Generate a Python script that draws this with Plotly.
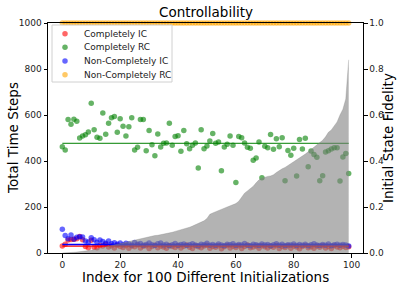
import plotly.graph_objects as go

idx = list(range(100))

green_rc = [462, 448, 580, 560, 581, 573, 500, 509, 514, 526,
            651, 536, 503, 499, 609, 516, 564, 588, 594, 525,
            584, 551, 509, 549, 588, 448, 460, 580, 580, 445,
            533, 471, 423, 517, 461, 477, 478, 564, 468, 506,
            510, 442, 533, 475, 453, 468, 478, 370, 536, 453,
            465, 487, 520, 477, 483, 358, 461, 473, 509, 468,
            306, 507, 501, 478, 460, 455, 403, 413, 483, 327,
            464, 458, 515, 451, 497, 462, 501, 314, 446, 425,
            455, 335, 494, 452, 499, 375, 443, 428, 416, 314,
            336, 439, 445, 452, 458, 458, 313, 417, 433, 346]

blue_ic = [103, 76, 62, 78, 60, 68, 71, 70, 52, 48,
           66, 58, 47, 56, 50, 42, 52, 40, 45, 38,
           44, 36, 42, 39, 35, 46, 38, 41, 34, 37,
           43, 36, 33, 40, 44, 35, 38, 32, 36, 41,
           34, 37, 39, 33, 36, 40, 35, 32, 38, 36,
           42, 34, 37, 33, 39, 35, 31, 38, 36, 40,
           33, 37, 35, 41, 34, 32, 38, 36, 33, 39,
           35, 37, 31, 36, 40, 34, 38, 32, 36, 35,
           39, 33, 37, 34, 38, 31, 36, 40, 35, 33,
           37, 34, 39, 32, 36, 38, 34, 37, 35, 30]

red_ic = [30, 38, 56, 59, 60, 62, 72, 58, 28, 23,
          55, 25, 23, 33, 30, 38, 26, 31, 22, 34,
          28, 24, 33, 21, 30, 27, 35, 22, 29, 32,
          20, 28, 34, 23, 30, 26, 21, 33, 28, 24,
          31, 22, 29, 35, 25, 20, 32, 27, 23, 30,
          34, 21, 28, 25, 31, 19, 27, 33, 22, 29,
          24, 31, 20, 28, 35, 23, 26, 30, 21, 32,
          27, 22, 29, 25, 33, 20, 28, 24, 31, 21,
          30, 26, 19, 28, 33, 23, 27, 21, 30, 25,
          32, 22, 28, 20, 31, 26, 23, 29, 24, 27]

orange_rc = [1000] * 100

fidelity = [0.0, 0.0, 0.001, 0.002, 0.003, 0.004, 0.005, 0.006, 0.007, 0.009,
            0.012, 0.015, 0.018, 0.021, 0.024, 0.027, 0.030, 0.033, 0.036, 0.039,
            0.042, 0.045, 0.048, 0.051, 0.054, 0.057, 0.060, 0.063, 0.066, 0.069,
            0.072, 0.074, 0.076, 0.077, 0.079, 0.081, 0.084, 0.087, 0.090, 0.094,
            0.097, 0.100, 0.104, 0.108, 0.112, 0.117, 0.122, 0.128, 0.134, 0.140,
            0.150, 0.168, 0.174, 0.180, 0.185, 0.190, 0.195, 0.200, 0.205, 0.210,
            0.215, 0.225, 0.245, 0.260, 0.270, 0.280, 0.290, 0.305, 0.318, 0.325,
            0.330, 0.333, 0.335, 0.340, 0.350, 0.360, 0.366, 0.372, 0.380, 0.390,
            0.398, 0.405, 0.412, 0.420, 0.430, 0.440, 0.450, 0.460, 0.470, 0.480,
            0.490, 0.505, 0.525, 0.535, 0.550, 0.570, 0.600, 0.625, 0.670, 0.840]

green_mean = 477
red_mean = 30
blue_mean = 37

legend_names = ["Completely IC", "Completely RC", "Non-Completely IC", "Non-Completely RC"]
legend_colors = ["rgba(255,0,0,0.6)", "rgba(0,128,0,0.6)", "rgba(0,0,255,0.6)", "rgba(255,165,0,0.6)"]

FONT = "DejaVu Sans"
MS = 5.5
W, H = 399, 287
L, R, T, B = 48, 36, 23, 34
PW, PH = W - L - R, H - T - B


def px_x(p):
    return (p - L) / PW


def px_y(p):
    return (H - B - p) / PH


fig = go.Figure()


def pts(y, color, name):
    return go.Scatter(x=idx, y=y, mode="markers", name=name,
                      marker=dict(color=color, size=MS, line=dict(width=0)),
                      cliponaxis=False, showlegend=False)


fig.add_trace(pts(red_ic, legend_colors[0], legend_names[0]))
fig.add_trace(pts(green_rc, legend_colors[1], legend_names[1]))
fig.add_trace(pts(blue_ic, legend_colors[2], legend_names[2]))
fig.add_trace(pts(orange_rc, legend_colors[3], legend_names[3]))

for val, col, lw in [(green_mean, "#008000", 1), (red_mean, "#ff0000", 1.3), (blue_mean, "#0000ff", 1.3)]:
    fig.add_trace(go.Scatter(x=[idx[0], idx[-1]], y=[val, val], mode="lines",
                             line=dict(color=col, width=lw),
                             showlegend=False, hoverinfo="skip"))

fig.add_trace(go.Scatter(x=idx, y=fidelity, yaxis="y2", mode="lines",
                         fill="tozeroy", fillcolor="rgba(128,128,128,0.6)",
                         line=dict(width=0.5, color="rgba(128,128,128,0.6)"),
                         showlegend=False, hoverinfo="skip"))

axis_common = dict(showgrid=False, zeroline=False, showline=True, linecolor="black",
                   linewidth=1, ticks="outside", ticklen=3.5, tickwidth=1,
                   tickcolor="black", automargin=False,
                   tickfont=dict(family=FONT, size=9, color="#222"))

shapes = []
annotations = []

# legend box
shapes.append(dict(type="rect", xref="paper", yref="paper", layer="above",
                   x0=px_x(52), x1=px_x(172), y0=px_y(82), y1=px_y(25),
                   line=dict(color="#d0d0d0", width=1),
                   fillcolor="rgba(255,255,255,0.8)"))
row_y = [33.7, 47.3, 61, 74.7]
r = MS / 2
for name, col, yy in zip(legend_names, legend_colors, row_y):
    shapes.append(dict(type="circle", xref="paper", yref="paper", layer="above",
                       x0=px_x(65 - r), x1=px_x(65 + r), y0=px_y(yy + r), y1=px_y(yy - r),
                       line=dict(width=0), fillcolor=col))
    annotations.append(dict(text=name, xref="paper", yref="paper", x=px_x(81.5), y=px_y(yy),
                            xanchor="left", yanchor="middle", showarrow=False,
                            font=dict(family=FONT, size=9, color="#222")))

# axis titles and title
annotations.append(dict(text="Total Time Steps", xref="paper", yref="paper",
                        x=px_x(13), y=px_y(138), textangle=-90, showarrow=False,
                        xanchor="center", yanchor="middle",
                        font=dict(family=FONT, size=13.5, color="black")))
annotations.append(dict(text="Initial State Fidelity", xref="paper", yref="paper",
                        x=px_x(388), y=px_y(138), textangle=-90, showarrow=False,
                        xanchor="center", yanchor="middle",
                        font=dict(family=FONT, size=13.5, color="black")))
annotations.append(dict(text="Index for 100 Different Initializations", xref="paper", yref="paper",
                        x=px_x(205.5), y=px_y(276.8), showarrow=False,
                        xanchor="center", yanchor="middle",
                        font=dict(family=FONT, size=13.5, color="black")))
annotations.append(dict(text="Controllability", xref="paper", yref="paper",
                        x=px_x(205.5), y=px_y(12.5), showarrow=False,
                        xanchor="center", yanchor="middle",
                        font=dict(family=FONT, size=13.5, color="black")))

fig.update_layout(
    width=W, height=H,
    margin=dict(l=L, r=R, t=T, b=B, autoexpand=False),
    paper_bgcolor="white", plot_bgcolor="white",
    font=dict(family=FONT, color="black"),
    xaxis=dict(range=[-4.95, 103.95], tickvals=[0, 20, 40, 60, 80, 100],
               mirror=True, **axis_common),
    yaxis=dict(range=[0, 1000], tickvals=[0, 200, 400, 600, 800, 1000],
               **axis_common),
    yaxis2=dict(range=[0, 1.0], overlaying="y", side="right", anchor="x",
                tickvals=[0, 0.2, 0.4, 0.6, 0.8, 1.0], tickformat=".1f",
                **axis_common),
    shapes=shapes,
    annotations=annotations,
    showlegend=False,
)

fig.write_html("out.html", config={"displayModeBar": False},
               post_script="document.body.style.margin='0';document.body.style.padding='0';"
                           "document.body.style.overflow='hidden';")
